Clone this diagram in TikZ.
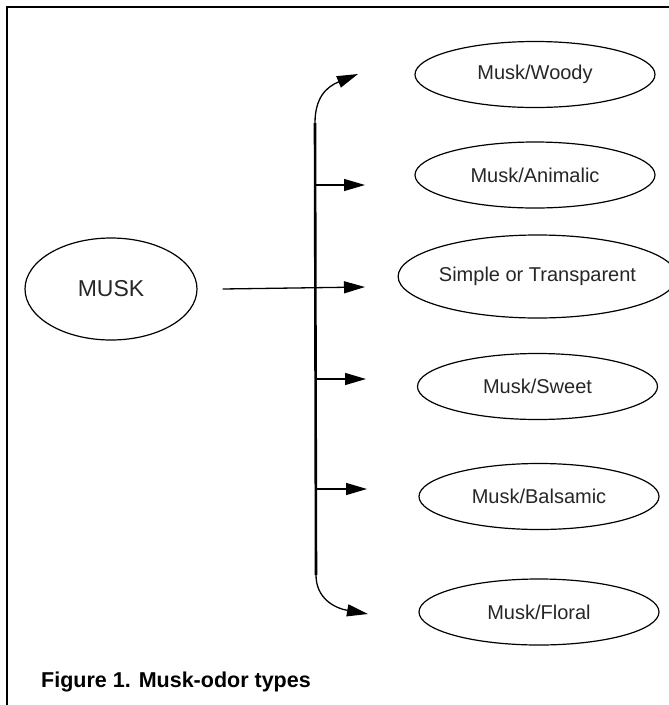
\documentclass[tikz,border=0pt]{standalone}
\usepackage{fontspec}
\setmainfont{Liberation Sans}
\usetikzlibrary{shapes.geometric,arrows.meta}
\begin{document}
\begin{tikzpicture}[x=1pt,y=-1pt,
  oval/.style={ellipse,draw,line width=1.2pt,inner sep=0pt,minimum width=240pt,minimum height=66pt,
    font=\fontsize{20}{24}\selectfont,text=black!85},
  branch/.style={line width=1.3pt,-{Triangle[length=21pt,width=12pt]}},
  trunkline/.style={line width=2.6pt},
  frameline/.style={line width=1.4pt}]
\useasboundingbox (0,0) rectangle (669,705);
% frame
\draw[frameline] (669,7) -- (7,7) -- (7,705);
% nodes
\node[oval,minimum width=172pt,minimum height=102pt,font=\fontsize{23}{27}\selectfont] (musk) at (111,289) {MUSK};
\node[oval] (woody) at (535,74.5) {Musk/Woody};
\node[oval] (animalic) at (535,175) {Musk/Animalic};
\node[oval,minimum height=83pt,minimum width=239pt] (simple) at (537.5,276.5) {Simple or Transparent};
\node[oval] (sweet) at (537.5,386.5) {Musk/Sweet};
\node[oval] (balsamic) at (539,496.5) {Musk/Balsamic};
\node[oval] (floral) at (539,612) {Musk/Floral};
% trunk and tips
\coordinate (ttop) at (315,123);
\coordinate (tbot) at (316,575);
\coordinate (b2) at (315,185);
\coordinate (b3) at (315,287);
\coordinate (b4) at (315.5,379);
\coordinate (b5) at (316,489);
\coordinate (a1) at (358,74);
\coordinate (a2) at (365,185);
\coordinate (a3) at (365,287);
\coordinate (a4) at (366,379);
\coordinate (a5) at (367,489);
\coordinate (a6) at (368,614);
\coordinate (m0) at ([xshift=25pt]musk.east);
\draw[trunkline] (ttop) -- (tbot);
\draw[branch] (ttop) .. controls (315,98) and (326,87) .. (a1);
\draw[branch] (tbot) .. controls (316,598) and (334,608) .. (a6);
\draw[branch] (b2) -- (a2);
\draw[branch] (m0) -- (a3);
\draw[branch] (b4) -- (a4);
\draw[branch] (b5) -- (a5);
% caption
\node[anchor=base west,inner sep=0pt,font=\bfseries\fontsize{21.5}{26}\selectfont] (cap) at (41,687) {Figure 1. Musk-odor types};
\end{tikzpicture}
\end{document}
